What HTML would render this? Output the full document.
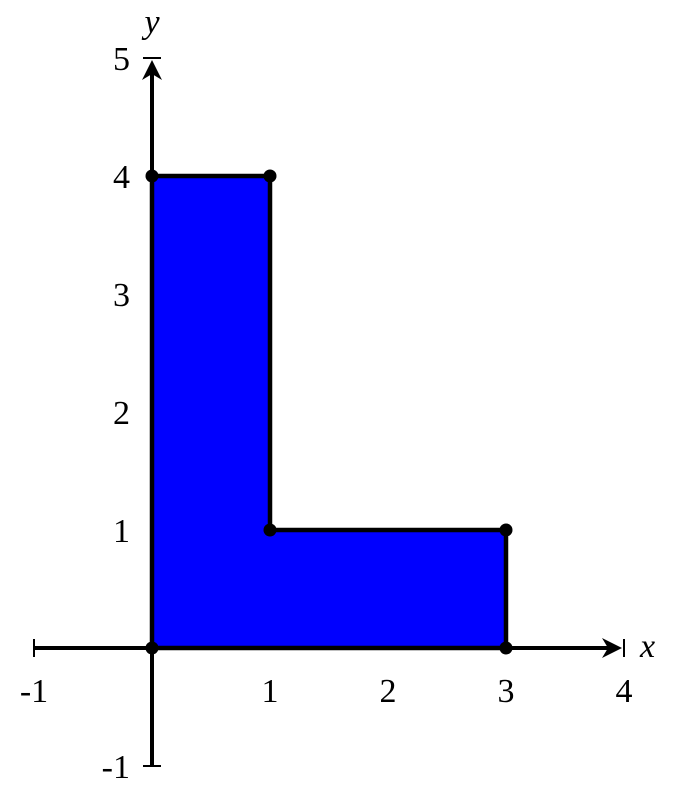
<!DOCTYPE html>
<html><head><meta charset="utf-8"><style>
html,body{margin:0;padding:0;background:#fff;}
svg{display:block;}
svg text{font-family:"Liberation Serif","DejaVu Serif",serif;font-size:34px;fill:#000;}
</style></head><body>
<svg id="chart" width="680" height="796" viewBox="0 0 680 796" xmlns="http://www.w3.org/2000/svg">
<g id="fill-layer"></g>
<g id="axes-layer"></g>
<g id="points-layer"></g>
</svg>
<script>
const xTicks = [-1, 1, 2, 3, 4];
const yTicks = [-1, 1, 2, 3, 4, 5];
const shapeX = [0, 0, 1, 1, 3, 3];
const shapeY = [0, 4, 4, 1, 1, 0];

const NS = "http://www.w3.org/2000/svg";
const FONT = "Liberation Serif, DejaVu Serif, serif";
function sx(v){ return 152 + v * 118; }
function sy(v){ return 648 - v * 118; }
function mk(tag, attrs, parent){
  const e = document.createElementNS(NS, tag);
  for (const k in attrs) e.setAttribute(k, attrs[k]);
  parent.appendChild(e);
  return e;
}
const fillL = document.getElementById('fill-layer');
const axL = document.getElementById('axes-layer');
const ptL = document.getElementById('points-layer');

const pts = shapeX.map((x, i) => sx(x) + ',' + sy(shapeY[i])).join(' ');
const poly = mk('polygon', {points: pts, fill: '#0000ff', stroke: '#000', 'stroke-width': 4.5, 'stroke-linejoin': 'round'}, fillL);



const xa = mk('line', {x1: sx(-1), y1: sy(0), x2: sx(4) - 8, y2: sy(0), stroke: '#000', 'stroke-width': 4}, axL);


const xar = mk('path', {d: `M${sx(4)-2},${sy(0)} L${sx(4)-22},${sy(0)-10} L${sx(4)-16},${sy(0)} L${sx(4)-22},${sy(0)+10} Z`, fill: '#000'}, axL);


const ya = mk('line', {x1: sx(0), y1: sy(-1), x2: sx(0), y2: sy(5) + 8, stroke: '#000', 'stroke-width': 4}, axL);


const yar = mk('path', {d: `M${sx(0)},${sy(5)+2} L${sx(0)-10},${sy(5)+22} L${sx(0)},${sy(5)+16} L${sx(0)+10},${sy(5)+22} Z`, fill: '#000'}, axL);



[-1, 4].forEach(v => {
  const t = mk('line', {x1: sx(v), y1: sy(0) - 9, x2: sx(v), y2: sy(0) + 9, stroke: '#000', 'stroke-width': 2}, axL);
  
  
});
[-1, 5].forEach(v => {
  const t = mk('line', {x1: sx(0) - 9, y1: sy(v), x2: sx(0) + 9, y2: sy(v), stroke: '#000', 'stroke-width': 2}, axL);
  
  
});

xTicks.forEach(v => {
  const t = mk('text', {x: sx(v), y: sy(0) + 54, 'text-anchor': 'middle', 'font-family': FONT, 'font-size': 34}, axL);
  t.textContent = String(v);
  
  
});
yTicks.forEach(v => {
  const t = mk('text', {x: sx(0) - 22, y: sy(v) + 12, 'text-anchor': 'end', 'font-family': FONT, 'font-size': 34}, axL);
  t.textContent = String(v);
  
  
});
const xl = mk('text', {x: 640, y: 657, 'font-style': 'italic', 'font-family': FONT, 'font-size': 34}, axL);
xl.textContent = 'x';


const yl = mk('text', {x: 152, y: 33, 'font-style': 'italic', 'text-anchor': 'middle', 'font-family': FONT, 'font-size': 34}, axL);
yl.textContent = 'y';



shapeX.forEach((x, i) => {
  const c = mk('circle', {cx: sx(x), cy: sy(shapeY[i]), r: 6.5, fill: '#000'}, ptL);
  
  
});
</script>
</body></html>
